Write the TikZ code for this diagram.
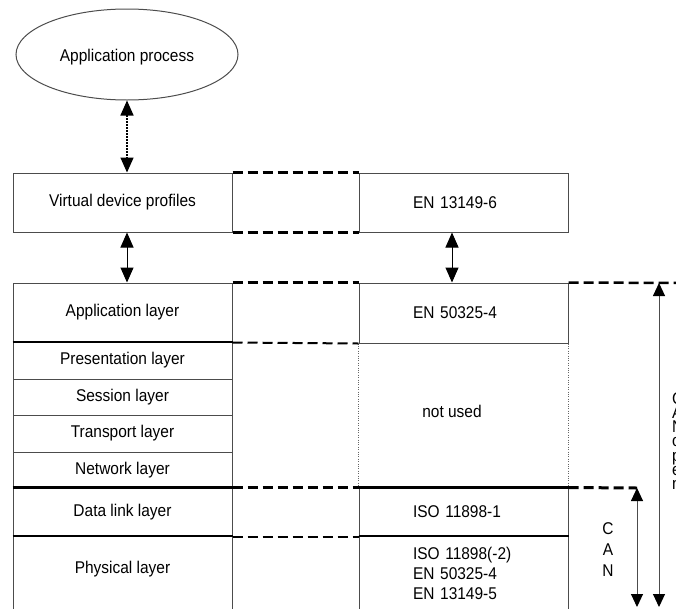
\documentclass[tikz,border=0pt]{standalone}
\usepackage{fontspec}
\setmainfont{Liberation Sans}[FakeStretch=0.91]
\usetikzlibrary{shapes.geometric,arrows.meta}
\tikzset{
    layer/.style={draw=black!70, line width=1pt, minimum width=219pt, anchor=center},
    stdbox/.style={draw=black!70, line width=1pt, text width=101pt, inner xsep=54pt, align=left, anchor=center},
    link/.style={dash pattern=on 10pt off 5pt, line width=3pt},
    thinlink/.style={link, line width=2pt},
    sep/.style={line width=2pt},
    can/.style={draw=black!70, line width=1pt, {Triangle[width=12pt,length=13pt,color=black]}-{Triangle[width=12pt,length=13pt,color=black]}},
    >={Triangle[width=13pt,length=15pt]}
}
\begin{document}
\begin{tikzpicture}[x=1pt,y=-1pt,font=\fontsize{17}{20}\selectfont]
            \useasboundingbox (0,0) rectangle (676,608);
            % OSI layers
            \node[draw=black!70, line width=1pt, ellipse, minimum width=222pt, minimum height=91pt, text height=17pt] at (127,54.5) (proc) {Application process};
            \node[layer, minimum height=59pt] at (122.5,202.5) (vdp) {Virtual device profiles};
            \node[layer, minimum height=59pt] at (122.5,312.5) (app) {Application layer};
            \node[layer, minimum height=37pt] at (122.5,360.5) (pres) {Presentation layer};
            \node[layer, minimum height=36pt] at (122.5,397) (sess) {Session layer};
            \node[layer, minimum height=37pt] at (122.5,433.5) (trans) {Transport layer};
            \node[layer, minimum height=36pt] at (122.5,470) (net) {Network layer};
            \node[layer, minimum height=48pt] at (122.5,512) (dl) {Data link layer};
            \node[layer, minimum height=74pt, text depth=12pt] at (122.5,573) (phys) {Physical layer};
            % standards
            \node[stdbox, minimum height=59pt] at (463.5,202.5) (en6) {EN 13149-6};
            \node[stdbox, minimum height=60pt] at (463.5,313) (en50) {EN 50325-4};
            \node[anchor=center] at (452,411) (unused) {not used};
            \node[stdbox, minimum height=48pt] at (463.5,512) (iso1) {ISO 11898-1};
            \node[stdbox, minimum height=74pt] at (463.5,573) (phy2) {ISO 11898(-2)\\EN 50325-4\\EN 13149-5};
            \draw[black!60, dotted] (en50.south west) -- (iso1.north west);
            \draw[black!60, dotted] (en50.south east) -- (iso1.north east);
            % thick borders
            \draw[sep] (pres.north west) -- (pres.north east);
            \draw[line width=3pt] (dl.north west) -- (dl.north east);
            \draw[sep] (phys.north west) -- (phys.north east);
            \draw[line width=3pt] (iso1.north west) -- (iso1.north east);
            \draw[sep] (phy2.north west) -- (phy2.north east);
            % links
            \draw[link] (vdp.north east) -- (en6.north west);
            \draw[link] (vdp.south east) -- (en6.south west);
            \draw[link, line width=2.5pt] (app.north east) -- (en50.north west);
            \draw[thinlink] (app.south east) -- (en50.south west);
            \draw[link] (dl.north east) -- (iso1.north west);
            \draw[thinlink] (dl.south east) -- (iso1.south west);
            \coordinate (edge) at (682,283);
            \coordinate (cantop) at (637,488);
            \coordinate (canbot) at (637,607);
            \coordinate (alltop) at (659,283);
            \coordinate (allbot) at (659,607);
            \draw[link, line width=2.5pt] (en50.north east) -- (edge);
            \draw[link] (iso1.north east) -- (cantop);
            % arrows
            \draw[<->, line width=1.5pt, dash pattern=on 1.5pt off 1.5pt] (proc.south) -- (proc.south |- vdp.north);
            \draw[<->, line width=1pt] (proc.south |- vdp.south) -- (proc.south |- app.north);
            \draw[<->, line width=1pt] ([xshift=-11.5pt]en6.south) -- ([xshift=-11.5pt]en50.north);
            \draw[can] (cantop) -- (canbot);
            \draw[can] (alltop) -- (allbot);
            % bus labels
            \node[align=center, inner sep=0pt, font=\fontsize{17}{21}\selectfont] at (608,550) (canlbl) {C\\A\\N};
            \node[anchor=north west, align=left, inner sep=0pt, font=\fontsize{17}{14.3}\selectfont] at (672,392) (openlbl) {C\\A\\N\\o\\p\\e\\n};
        \end{tikzpicture}
\end{document}
